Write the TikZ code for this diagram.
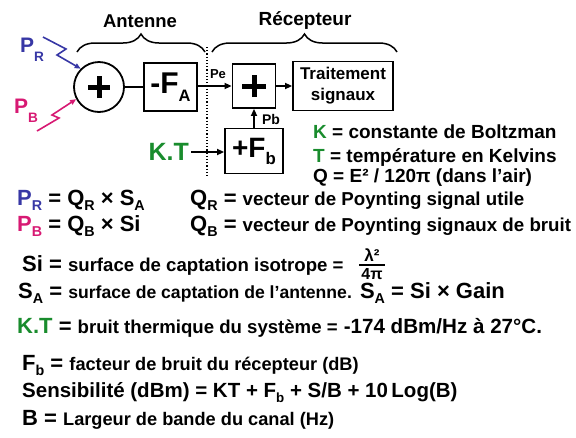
\documentclass[tikz,border=0pt]{standalone}
\usepackage{fontspec}
\setmainfont{Liberation Sans}
\usetikzlibrary{decorations.pathreplacing,arrows.meta}
\definecolor{cblue}{RGB}{55,55,165}
\definecolor{cmag}{RGB}{215,25,115}
\definecolor{cgreen}{RGB}{25,140,45}
\newcommand\fs[1]{\fontsize{#1}{#1}\selectfont\bfseries}
\newcommand\blo[2][0.65]{\raisebox{-0.25em}{\scalebox{#1}{#2}}}
\newcommand\lo[2][0.65]{\smash{\raisebox{-0.27em}{\scalebox{#1}{#2}}}}
\newcommand\llo[2][0.65]{\raisebox{-0.45em}{\scalebox{#1}{#2}}}
\begin{document}
\begin{tikzpicture}[x=1pt,y=-1pt,
  >={Triangle[length=7pt,width=6pt]},
  blockbox/.style={draw, line width=1.8pt, inner sep=0pt},
  txt/.style={inner sep=0pt, anchor=base west},
  lbl/.style={inner sep=0pt},
  conn/.style={line width=1.6pt},
  plusbar/.style={line width=5pt},
  bracedeco/.style={decorate, decoration={brace, amplitude=18pt}, line width=1.5pt}]
\useasboundingbox (0,0) rectangle (576,437);

% --- blocks
\node[circle, draw, line width=1.8pt, minimum size=50pt, inner sep=0pt] (sum1) at (99,87) {};
\draw[plusbar] ([xshift=-11pt]sum1.center) -- ([xshift=11pt]sum1.center);
\draw[plusbar] ([yshift=-11pt]sum1.center) -- ([yshift=11pt]sum1.center);

\node[blockbox, minimum width=53pt, minimum height=48pt] (fa) at (170.5,87) {\fs{30}-F\blo[0.55]{A}};

\node[blockbox, minimum width=43pt, minimum height=44pt] (pbox) at (254,86) {};
\draw[plusbar] ([xshift=-12pt]pbox.center) -- ([xshift=12pt]pbox.center);
\draw[plusbar] ([yshift=-11pt]pbox.center) -- ([yshift=11pt]pbox.center);

\node[blockbox, minimum width=100pt, minimum height=49pt, align=center,
      font={\fontsize{17}{21}\selectfont\bfseries}] (tr) at (343,86) {Traitement\\signaux};

\node[blockbox, minimum width=58pt, minimum height=45pt] (fb) at (254,151) {\fs{28}+F\blo[0.6]{b}};

\node[lbl, anchor=east, text=cgreen] (kt) at (189,152) {\fs{25}K.T};

% --- labels on top
\node[lbl] (antenne) at (140,21) {\fs{18.5}Antenne};
\node[lbl] (recepteur) at (305,21) {\fs{19}Récepteur};
\draw[bracedeco] (77,52) -- (205,52);
\draw[bracedeco] (212,52) -- (397,52);
\draw[dotted, line width=1.2pt] (207,47) -- (207,177);

% --- connectors
\draw[conn] (sum1) -- (fa);
\draw[conn,->] (fa.east |- pbox) -- (pbox);
\draw[conn,->] (pbox) -- (tr.west |- pbox);
\draw[conn,->] (fb) -- (pbox);
\draw[conn,->] ([xshift=2pt]kt.east) -- (fb.west |- kt);
\node[lbl] (pe) at (218,74) {\fs{13}Pe};
\node[lbl] (pbl) at (271,119) {\fs{14}Pb};

% --- incoming waves
\node[txt, text=cblue] (pr) at (20,52) {\fs{21}P\llo{R}};
\node[txt, text=cmag] (pbin) at (14,113) {\fs{21}P\llo{B}};
\coordinate (prs) at (43,37);
\coordinate (pbs) at (37,131);
\draw[conn, cblue, >={Triangle[length=6pt,width=5pt]}, ->] (prs) -- (66,49) -- (57,55) -- (sum1.135);
\draw[conn, cmag, >={Triangle[length=6pt,width=5pt]}, ->] (pbs) -- (59,118) -- (52,115) -- (sum1.208);

% --- legend right
\node[txt] (lk) at (313,138) {\fs{19}\textcolor{cgreen}{K} = constante de Boltzman};
\node[txt] (lt) at (313,162) {\fs{19}\textcolor{cgreen}{T} = température en Kelvins};
\node[txt] (lq) at (313,182) {\fs{19}Q = E² / 120π (dans l'air)};

% --- formulas
\node[txt] (l1a) at (17,205) {\fs{22}\textcolor{cblue}{P\lo{R}} = Q\lo{R} × S\lo{A}};
\node[txt] (l1b) at (190,205) {\fs{22}Q\lo{R} = {\fs{18.7}vecteur de Poynting signal utile}};
\node[txt] (l2a) at (17,231) {\fs{22}\textcolor{cmag}{P\lo{B}} = Q\lo{B} × Si};
\node[txt] (l2b) at (190,231) {\fs{22}Q\lo{B} = {\fs{18.7}vecteur de Poynting signaux de bruit}};
\node[txt] (l3) at (22,271) {\fs{22}Si = {\fs{18.6}surface de captation isotrope =}};
\node[lbl, anchor=base] (num) at (372,261) {\fs{17}λ²};
\node[lbl, anchor=base] (den) at (372,279) {\fs{16}4π};
\draw[line width=1.2pt] (359,265) -- (385,265);
\node[txt] (l4) at (18,298) {\fs{22}S\lo{A} = {\fs{17.6}surface de captation de l'antenne.} S\lo{A} = Si × Gain};
\node[txt] (l5) at (17,333) {\fs{22}\textcolor{cgreen}{K.T} = {\fs{18.6}bruit thermique du système =} {\fs{20.6}-174 dBm/Hz à 27°C.}};
\node[txt] (l6) at (22,370) {\fs{22}F\lo{b} = {\fs{18.2}facteur de bruit du récepteur (dB)}};
\node[txt] (l7) at (22,397) {\fs{20.5}Sensibilité (dBm) = KT + F\lo{b} + S/B + 10\,Log(B)};
\node[txt] (l8) at (22,425) {\fs{22}B = {\fs{18.2}Largeur de bande du canal (Hz)}};
\end{tikzpicture}
\end{document}
